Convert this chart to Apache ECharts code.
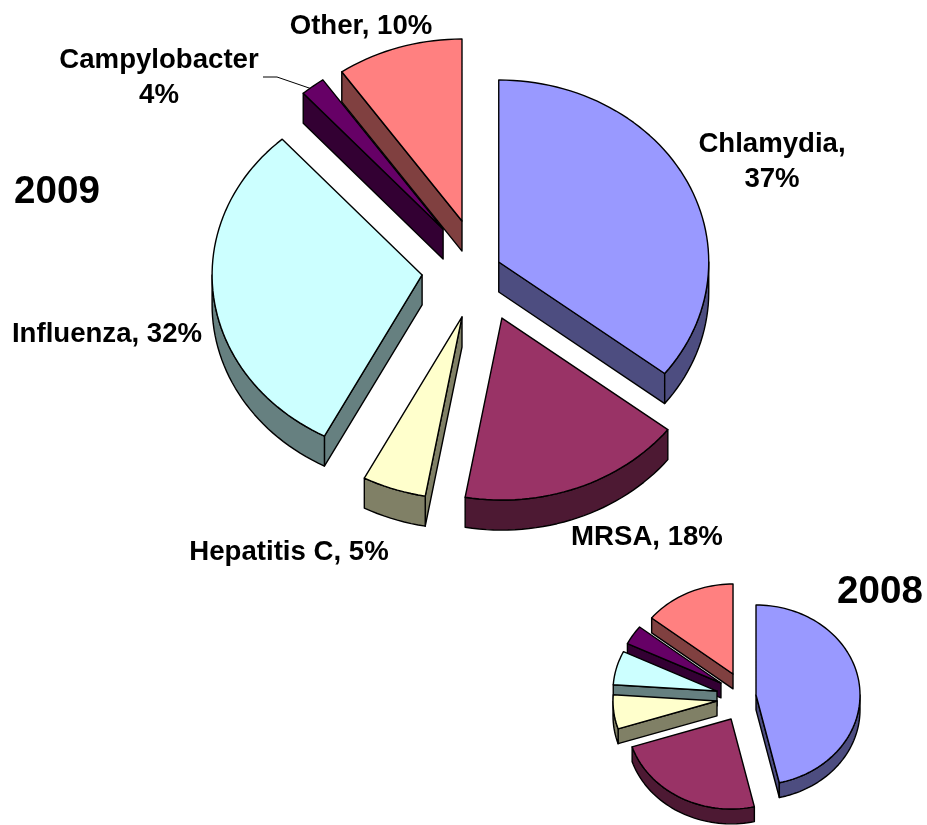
<!DOCTYPE html>
<html>
<head>
<meta charset="utf-8">
<style>
  html, body { margin: 0; background: #fff; }
  #chart { width: 927px; height: 825px; }
</style>
<script src="https://cdn.jsdelivr.net/npm/echarts@6/dist/echarts.min.js"></script>
</head>
<body>
<div id="chart"></div>
<script>
const categories = ["Chlamydia", "MRSA", "Hepatitis C", "Influenza", "Campylobacter", "Other"];

// share of each pie as drawn (the printed 2009 labels add up to 106)
const shares2009 = [35.5, 17.3, 4.9, 30.7, 1.9, 9.7];
const shares2008 = [46.4, 23.6, 6.1, 6.1, 3.5, 14.3];
const labels2009 = ["Chlamydia,\n37%", "MRSA, 18%", "Hepatitis C, 5%", "Influenza, 32%", "Campylobacter\n4%", "Other, 10%"];

// per-slice explosion, in pie radii
const explodeX2009 = [0.175, 0.19, 0, -0.19, -0.09, 0];
const explodeY2009 = [0.033, -0.275, -0.269, -0.038, 0.214, 0.258];
const explodeX2008 = [0.202, -0.038, -0.173, -0.173, -0.135, -0.019];
const explodeY2008 = [-0.011, -0.278, -0.078, 0.033, 0.122, 0.222];

const topColors = ["#9999ff", "#993366", "#ffffcc", "#ccffff", "#660066", "#ff8080"];
const sideColors = ["#4d4d80", "#4d1933", "#808066", "#668080", "#330033", "#804040"];
const labelX = [772, 647, 289, 107, 159, 361];
const labelY = [162, 537, 552, 334, 78, 26];

const pieDepth = 0.165;
const edge = { stroke: "#000", lineWidth: 1.4, lineJoin: "round" };
const labelFont = 'bold 27.6px "Liberation Sans", Arial, sans-serif';
const titleFont = 'bold 38.6px "Liberation Sans", Arial, sans-serif';

function sliceRows(shares, explodeX, explodeY) {
  let angle = 0;
  const rows = shares.map((share, i) => {
    const start = angle;
    angle += share * 3.6;
    return [start, angle, explodeX[i], explodeY[i], i];
  });
  // back slices first, so the front ones paint over them
  return rows.reverse();
}

function renderSlice(params, api) {
  const start = api.value(0);
  const end = api.value(1);
  const offX = api.value(2);
  const offY = api.value(3);
  const index = api.value(4);
  const rim = (deg, drop) => {
    const rad = deg * Math.PI / 180;
    return api.coord([offX + Math.sin(rad), offY + Math.cos(rad) - drop]);
  };
  const apex = drop => api.coord([offX, offY - drop]);
  const arc = (from, to, drop) => {
    const points = [];
    const steps = Math.max(2, Math.ceil((to - from) / 2));
    for (let i = 0; i <= steps; i++) points.push(rim(from + (to - from) * i / steps, drop));
    return points;
  };
  const face = (points, fill) => ({
    type: "polygon",
    shape: { points },
    style: { fill, ...edge }
  });
  const radialWall = deg => face([apex(0), rim(deg, 0), rim(deg, pieDepth), apex(pieDepth)], sideColors[index]);

  const children = [];
  // only the cut faces turned towards the viewer
  if (start > 180) children.push(radialWall(start));
  if (end < 180) children.push(radialWall(end));
  const wallFrom = Math.max(start, 90);
  const wallTo = Math.min(end, 270);
  if (wallTo > wallFrom) {
    children.push(face(arc(wallFrom, wallTo, 0).concat(arc(wallFrom, wallTo, pieDepth).reverse()), sideColors[index]));
  }
  children.push(face([apex(0)].concat(arc(start, end, 0)), topColors[index]));
  return { type: "group", children };
}

function pieSeries(gridIndex, shares, explodeX, explodeY) {
  return {
    type: "custom",
    coordinateSystem: "cartesian2d",
    xAxisIndex: gridIndex,
    yAxisIndex: gridIndex,
    clip: false,
    silent: true,
    renderItem: renderSlice,
    data: sliceRows(shares, explodeX, explodeY)
  };
}

function unitAxis(gridIndex) {
  return { type: "value", gridIndex, min: -1, max: 1, show: false };
}

function textItem(text, x, y, font) {
  return {
    type: "text",
    x,
    y,
    style: { text, font, fill: "#000", align: "center", verticalAlign: "middle", lineHeight: 35 }
  };
}

const chart = echarts.init(document.getElementById("chart"));
chart.setOption({
  animation: false,
  backgroundColor: "#fff",
  grid: [
    { left: 252, top: 86, width: 420, height: 364 },
    { left: 631, top: 604, width: 208, height: 180 }
  ],
  xAxis: [unitAxis(0), unitAxis(1)],
  yAxis: [unitAxis(0), unitAxis(1)],
  series: [
    pieSeries(0, shares2009, explodeX2009, explodeY2009),
    pieSeries(1, shares2008, explodeX2008, explodeY2008)
  ],
  graphic: [
    ...labels2009.map((text, i) => textItem(text, labelX[i], labelY[i], labelFont)),
    textItem("2009", 57, 192, titleFont),
    textItem("2008", 880, 592, titleFont),
    {
      type: "polyline",
      shape: { points: [[263, 77], [277, 77], [312, 89]] },
      style: { stroke: "#000", lineWidth: 1, fill: null }
    }
  ]
});
</script>
</body>
</html>
